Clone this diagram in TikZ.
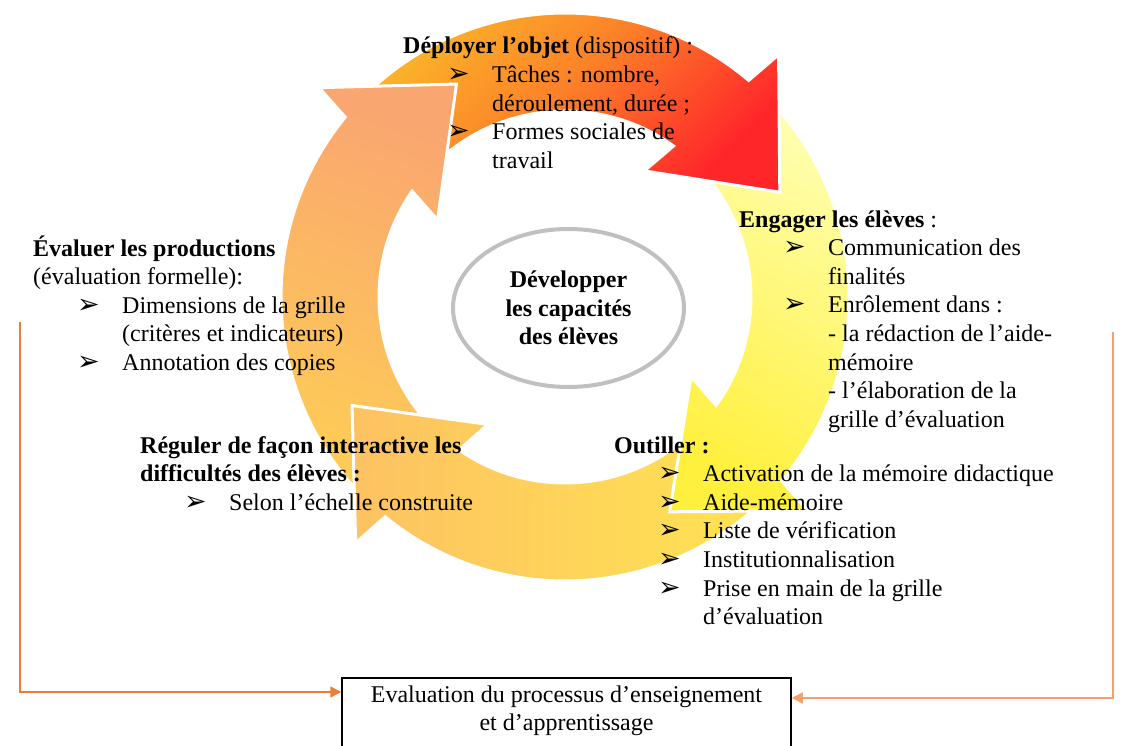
\documentclass[tikz,border=0pt]{standalone}
\usepackage{fontspec}
\setmainfont{Liberation Serif}
\newfontfamily\pucefont{DejaVu Sans}
\usepackage{tikz}
\usetikzlibrary{calc,arrows.meta,shapes.geometric}
\definecolor{orangelien}{RGB}{237,125,49}
\definecolor{orangelienclair}{RGB}{243,160,108}
\definecolor{grisellipse}{RGB}{192,192,192}
\definecolor{hautA}{RGB}{251,186,42}
\definecolor{hautB}{RGB}{252,128,40}
\definecolor{hautC}{RGB}{255,38,42}
\definecolor{droiteA}{RGB}{255,255,178}
\definecolor{droiteB}{RGB}{255,240,62}
\definecolor{basA}{RGB}{253,194,98}
\definecolor{basB}{RGB}{255,228,82}
\definecolor{gaucheA}{RGB}{250,166,112}
\definecolor{gaucheB}{RGB}{254,206,84}

\newcommand{\puce}{{\pucefont\fontsize{27}{27}\selectfont ➢}}
\newcommand{\puceitem}{\hspace*{44pt}\makebox[45pt][l]{\puce}}
\newcommand{\retrait}{\hspace*{89pt}}
% fleche du cycle : #1 = angle de la queue, #2 = angle de la pointe
\newcommand{\flechecycle}[2]{($(ctr)+(#1:284)$) arc[start angle=#1, end angle={#2-23.7}, radius=284]
 -- ($(ctr)+({#2-22.6}:323)$) -- ($(ctr)+(#2:239)$) -- ($(ctr)+({#2-31.8}:149)$)
 -- ($(ctr)+({#2-28.3}:186)$) arc[start angle={#2-28.3}, end angle=#1, radius=186] -- cycle}

\begin{document}
\begin{tikzpicture}[x=1pt, y=-1pt,
fleche/.style={draw=white, line width=3pt},
flecheHaut/.style={fleche, top color=hautA, bottom color=hautC, middle color=hautB, shading angle=45},
flecheDroite/.style={fleche, top color=droiteA, bottom color=droiteB, shading angle=-30},
flecheBas/.style={fleche, top color=basA, bottom color=basB, shading angle=90},
flecheGauche/.style={fleche, top color=gaucheA, bottom color=gaucheB, shading angle=-20},
texte/.style={anchor=base west, align=left, inner sep=0pt, font=\fontsize{24}{28.6}\selectfont},
centre/.style={ellipse, draw=grisellipse, line width=4pt, minimum width=231pt, minimum height=158pt,
  align=center, inner sep=0pt, font=\fontsize{24}{28.6}\selectfont\bfseries},
boite/.style={draw, line width=1.5pt, inner sep=0pt, font=\fontsize{24}{28}\selectfont},
lien/.style={draw=orangelien, line width=1.5pt, -{Triangle[length=11pt,width=11pt]}},
]
\useasboundingbox (0,0) rectangle (1124,746);
\fill[white] (0,0) rectangle (1124,746);

\coordinate (ctr) at (565,297);

% les quatre fleches du cycle
\path[flecheGauche] \flechecycle{133}{243};
\path[flecheBas] \flechecycle{44}{153};
\path[flecheDroite] \flechecycle{314}{424};
\path[flecheHaut] \flechecycle{223}{334};
\begin{scope}
\clip (ctr) -- ($(ctr)+(200:420)$) -- ($(ctr)+(230:420)$) -- ($(ctr)+(262:420)$) -- cycle;
\path[flecheGauche] \flechecycle{133}{243};
\end{scope}

\node[centre] (developper) at (568.5,308) {Développer\\les capacités\\des élèves};

% les blocs de texte (ancre = ligne de base de la derniere ligne)
\node[texte] (deployer) at (403,168.4) {\textbf{Déployer l’objet} (dispositif) :\\
\puceitem Tâches : nombre,\\
\retrait déroulement, durée ;\\
\puceitem Formes sociales de\\
\retrait travail};

\node[texte] (engager) at (739,427.2) {\textbf{Engager les élèves} :\\
\puceitem Communication des\\
\retrait finalités\\
\puceitem Enrôlement dans :\\
\retrait - la rédaction de l’aide-\\
\retrait mémoire\\
\retrait - l’élaboration de la\\
\retrait grille d’évaluation};

\node[texte] (evaluer) at (33,370.4) {\textbf{Évaluer les productions}\\
(évaluation formelle):\\
\puceitem Dimensions de la grille\\
\retrait (critères et indicateurs)\\
\puceitem Annotation des copies};

\node[texte] (reguler) at (140,510.2) {\textbf{Réguler de façon interactive les}\\
\textbf{difficultés des élèves :}\\
\puceitem Selon l’échelle construite};

\node[texte] (outiller) at (614,624.6) {\textbf{Outiller :}\\
\puceitem Activation de la mémoire didactique\\
\puceitem Aide-mémoire\\
\puceitem Liste de vérification\\
\puceitem Institutionnalisation\\
\puceitem Prise en main de la grille\\
\retrait d’évaluation};

\node[boite, anchor=north] (eval) at (566.5,677) {\parbox[t][100pt][t]{449pt}{\centering\vspace*{8pt}Evaluation du processus d’enseignement\\et d’apprentissage}};

% retours vers l'evaluation
\coordinate (hautG) at (20,322);
\coordinate (basG) at (20,692);
\coordinate (hautD) at (1113,332);
\coordinate (basD) at (1113,698);
\draw[lien] (hautG) -- (basG) -- (eval.west |- basG);
\draw[lien, draw=orangelienclair] (hautD) -- (basD) -- (eval.east |- basD);

\end{tikzpicture}
\end{document}
